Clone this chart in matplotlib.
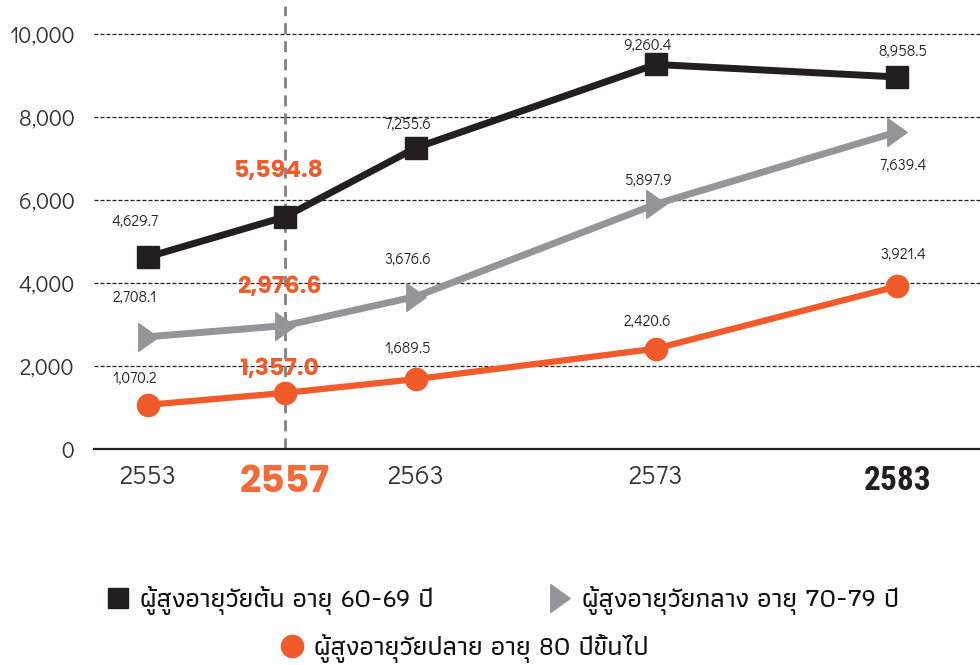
import matplotlib
matplotlib.use("Agg")
import matplotlib.pyplot as plt
from matplotlib.lines import Line2D
from matplotlib.path import Path
import numpy as np

# ---------------- data ----------------
years = ["2553", "2557", "2563", "2573", "2583"]
early_60_69 = [4629.7, 5594.8, 7255.6, 9260.4, 8958.5]
middle_70_79 = [2708.1, 2976.6, 3676.6, 5897.9, 7639.4]
late_80_up = [1070.2, 1357.0, 1689.5, 2420.6, 3921.4]
series_names = ["ผู้สูงอายุวัยต้น อายุ 60-69 ปี",
                "ผู้สูงอายุวัยกลาง อายุ 70-79 ปี",
                "ผู้สูงอายุวัยปลาย อายุ 80 ปีขึ้นไป"]
y_ticks = [0, 2000, 4000, 6000, 8000, 10000]
highlight_index = 1  # 2557

# ---------------- layout / style ----------------
x_pos = [0, 1.015, 1.985, 3.76, 5.55]   # horizontal placement of the year columns
BLACK = "#231f20"
GRAY = "#939598"
ORANGE = "#f15a29"
TXT = "#231f20"
NUM_FONT = ["Didact Gothic", "Questrial", "DejaVu Sans"]
BOLD_FONT = ["Poppins", "Montserrat", "DejaVu Sans"]
THAI_FONT = ["Athiti", "Noto Sans Thai", "DejaVu Sans"]

tri = Path([(-0.7, -1), (0.7, 0), (-0.7, 1), (-0.7, -1)],
           [Path.MOVETO, Path.LINETO, Path.LINETO, Path.CLOSEPOLY])

W, H = 980, 665
fig = plt.figure(figsize=(W / 100, H / 100), dpi=100)
ax_left, ax_bottom_px = 94, 449.3
ax = fig.add_axes([ax_left / W, 1 - ax_bottom_px / H, 1 - ax_left / W, ax_bottom_px / H])
px_per_unit = (449.3 - 33.7) / 10000
ax.set_ylim(0, ax_bottom_px / px_per_unit)
ax.set_xlim(-54 / 135, (980 - 148) / 135)

for s in ["top", "right", "left"]:
    ax.spines[s].set_visible(False)
ax.spines["bottom"].set_color(BLACK)
ax.spines["bottom"].set_linewidth(1.6)

ax.set_yticks(y_ticks)
ax.set_yticklabels([f"{v:,}" for v in y_ticks], fontsize=16.5, color="#333333",
                   family=NUM_FONT)
ax.tick_params(axis="y", length=0, pad=14)
for v in y_ticks[1:]:
    ax.axhline(v, color=BLACK, lw=0.9, ls=(0, (3.2, 1.6)), zorder=1)

ax.set_xticks(x_pos)
ax.set_xticklabels(years)
ax.tick_params(axis="x", length=0, pad=11)
for i, lab in enumerate(ax.get_xticklabels()):
    if i == highlight_index:
        lab.set_fontsize(27); lab.set_fontweight("bold"); lab.set_color("#f26b3a")
        lab.set_family(BOLD_FONT)
    elif i == len(years) - 1:
        lab.set_fontsize(24); lab.set_fontweight("bold"); lab.set_color(BLACK)
        lab.set_family(["Roboto Condensed", "Roboto", "DejaVu Sans"])
    else:
        lab.set_fontsize(19); lab.set_color("#333333"); lab.set_family(NUM_FONT)

# vertical highlight line at 2557
ax.axvline(x_pos[highlight_index], ymin=0, ymax=(449.3 - 6) / 449.3, color="#808285",
           lw=2, ls=(0, (4, 2.5)), zorder=1)

# series
ax.plot(x_pos, early_60_69, color=BLACK, lw=5, marker="s", ms=16, zorder=4,
        solid_joinstyle="miter")
ax.plot(x_pos, middle_70_79, color=GRAY, lw=5, marker=tri, ms=20, zorder=3)
ax.plot(x_pos, late_80_up, color=ORANGE, lw=4.5, marker="o", ms=16, zorder=3)

# data labels (offsets in pixels)
offs = {
    0: [(-13, 36), None, (-8, 24), (-8, 20), (6, 26)],
    1: [(-13, 40), None, (-8, 38), (-8, 25), (6, -33)],
    2: [(-13, 27), None, (-8, 32), (-8, 28), (6, 33)],
}
hl_offs = [(-6, 45), (-6, 38), (-6, 23)]
for si, vals in enumerate([early_60_69, middle_70_79, late_80_up]):
    for i, v in enumerate(vals):
        if i == highlight_index:
            dx, dy = hl_offs[si]
            ax.annotate(f"{v:,.1f}", (x_pos[i], v), xytext=(dx * 0.72, dy * 0.72),
                        textcoords="offset points", ha="center", va="center",
                        fontsize=17, fontweight="bold", color=ORANGE,
                        family=BOLD_FONT, zorder=6)
        else:
            dx, dy = offs[si][i]
            ax.annotate(f"{v:,.1f}", (x_pos[i], v), xytext=(dx * 0.72, dy * 0.72),
                        textcoords="offset points", ha="center", va="center",
                        fontsize=11, color=TXT, family=NUM_FONT, zorder=6)

# legend
h0 = Line2D([], [], color=BLACK, marker="s", ms=15, ls="none")
h1 = Line2D([], [], color=GRAY, marker=tri, ms=20, ls="none")
h2 = Line2D([], [], color=ORANGE, marker="o", ms=16, ls="none")
lp = dict(frameon=False, prop={"family": THAI_FONT, "size": 19.5, "weight": "medium"},
          handlelength=1.0, handletextpad=0.3, borderaxespad=0, borderpad=0)
leg1 = fig.legend([h0, h1], series_names[:2], loc="center", ncol=2,
                  bbox_to_anchor=(0.512, 1 - 601 / H), columnspacing=4.2, **lp)
leg2 = fig.legend([h2], series_names[2:], loc="center",
                  bbox_to_anchor=(0.473, 1 - 649 / H), **lp)
for lg in (leg1, leg2):
    for t in lg.get_texts():
        t.set_color("#111111")

fig.savefig("out.png", dpi=100)
